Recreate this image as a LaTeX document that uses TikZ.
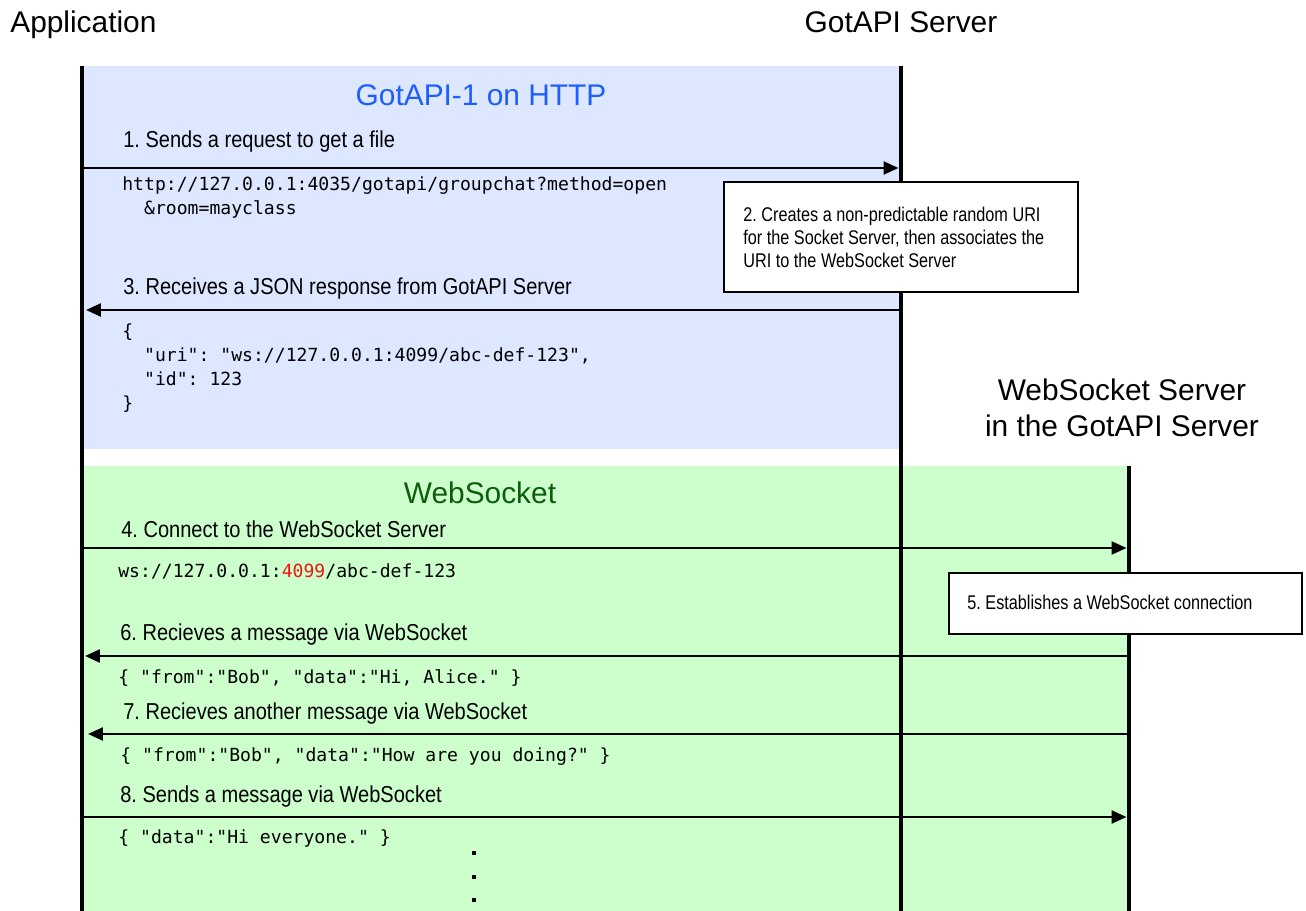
\documentclass[tikz,border=0pt]{standalone}
\usepackage{graphicx}
\usepackage{fontspec}
\setmainfont{Liberation Sans}
\setmonofont{DejaVu Sans Mono}
\usetikzlibrary{arrows.meta}
\definecolor{bluebg}{RGB}{221,231,255}
\definecolor{greenbg}{RGB}{204,255,204}
\definecolor{titleblue}{RGB}{30,94,255}
\definecolor{titlegreen}{RGB}{12,94,12}
\definecolor{codered}{RGB}{240,20,20}
\newcommand{\tallLbl}[1]{\scalebox{1}[1.15]{#1}}
\newcommand{\tallNote}[1]{\scalebox{1}[1.22]{#1}}
\frenchspacing
\begin{document}
\begin{tikzpicture}[x=0.02cm,y=-0.02cm,
  lifeline/.style={line width=2.8pt},
  msg/.style={line width=1.4pt,-{Triangle[length=0.3cm,width=0.26cm]}},
  actor/.style={font=\fontsize{17}{20.5}\selectfont,inner sep=0},
  phase/.style={font=\fontsize{17}{20.5}\selectfont,inner sep=0,anchor=base},
  lbl/.style={font=\fontsize{11.4}{14}\selectfont,inner sep=0,anchor=base west},
  code/.style={font=\ttfamily\fontsize{10.3}{13.66}\selectfont,inner sep=0,align=left},
  notebox/.style={draw,line width=1.1pt,fill=white,inner sep=0},
  notetext/.style={font=\fontsize{9.25}{13.4}\selectfont,inner sep=0,anchor=base west}
]
\useasboundingbox (0,0) rectangle (1306,911);
% backgrounds
\fill[bluebg] (82,66) rectangle (901,449);
\fill[greenbg] (82,466) rectangle (1129,911);
% lifelines
\coordinate (appTop) at (82,66);
\coordinate (appBot) at (82,911);
\coordinate (gotTop) at (901,66);
\coordinate (gotBot) at (901,911);
\coordinate (wsTop) at (1129,466);
\coordinate (wsBot) at (1129,911);
\draw[lifeline] (appTop) -- (appBot);
\draw[lifeline] (gotTop) -- (gotBot);
\draw[lifeline] (wsTop) -- (wsBot);
% actor titles
\node[actor,anchor=base west] (app) at (10,33) {Application};
\node[actor,anchor=base] (got) at (901,33) {GotAPI Server};
\node[actor,align=center] (wss) at (1122,408) {WebSocket Server\\in the GotAPI Server};
% phase titles
\node[phase,text=titleblue] (httpph) at (481,106) {GotAPI-1 on HTTP};
\node[phase,text=titlegreen] (wsph) at (480,504) {WebSocket};
% message endpoints
\coordinate (m1s) at (82,168);   \coordinate (m1e) at (898.5,168);
\coordinate (m3s) at (901,310);  \coordinate (m3e) at (86,310);
\coordinate (m4s) at (82,548);   \coordinate (m4e) at (1126.5,548);
\coordinate (m6s) at (1129,656); \coordinate (m6e) at (85,656);
\coordinate (m7s) at (1129,734); \coordinate (m7e) at (88,734);
\coordinate (m8s) at (82,817);   \coordinate (m8e) at (1126.5,817);
\draw[msg] (m1s) -- (m1e);
\draw[msg] (m3s) -- (m3e);
\draw[msg] (m4s) -- (m4e);
\draw[msg] (m6s) -- (m6e);
\draw[msg] (m7s) -- (m7e);
\draw[msg] (m8s) -- (m8e);
% labels
\node[lbl] (l1) at (123,148) {\tallLbl{1. Sends a request to get a file}};
\node[lbl] (l3) at (123,295) {\tallLbl{3. Receives a JSON response from GotAPI Server}};
\node[lbl] (l4) at (121,538) {\tallLbl{4. Connect to the WebSocket Server}};
\node[lbl] (l6) at (120,641) {\tallLbl{6. Recieves a message via WebSocket}};
\node[lbl] (l7) at (123,720) {\tallLbl{7. Recieves another message via WebSocket}};
\node[lbl] (l8) at (120,803) {\tallLbl{8. Sends a message via WebSocket}};
% code
\node[code,anchor=west] (c1) at (122,198) {http://127.0.0.1:4035/gotapi/groupchat?method=open\\\phantom{xx}\&room=mayclass};
\node[code,anchor=west] (c3) at (122,368) {\{\\\phantom{xx}"uri": "ws://127.0.0.1:4099/abc-def-123",\\\phantom{xx}"id": 123\\\}};
\node[code,anchor=base west] (c4) at (118,578) {ws://127.0.0.1:\textcolor{codered}{4099}/abc-def-123};
\node[code,anchor=base west] (c6) at (118,684) {\{ "from":"Bob", "data":"Hi, Alice." \}};
\node[code,anchor=base west] (c7) at (120,762) {\{ "from":"Bob", "data":"How are you doing?" \}};
\node[code,anchor=base west] (c8) at (118,844) {\{ "data":"Hi everyone." \}};
% continuation dots
\foreach \yy in {853,877,900} \fill (472,\yy-2) rectangle (476,\yy+2);
% notes
\node[notebox,minimum width=7.08cm,minimum height=2.2cm] (n2) at (901,237) {};
\node[notetext] (n2a) at (743,222) {\tallNote{2. Creates a non-predictable random URI}};
\node[notetext] (n2b) at (743,245) {\tallNote{for the Socket Server, then associates the}};
\node[notetext] (n2c) at (743,268) {\tallNote{URI to the WebSocket Server}};
\node[notebox,minimum width=7.06cm,minimum height=1.22cm] (n5) at (1125.5,603.5) {};
\node[notetext] (n5t) at (967,610) {\tallNote{5. Establishes a WebSocket connection}};
\end{tikzpicture}
\end{document}
